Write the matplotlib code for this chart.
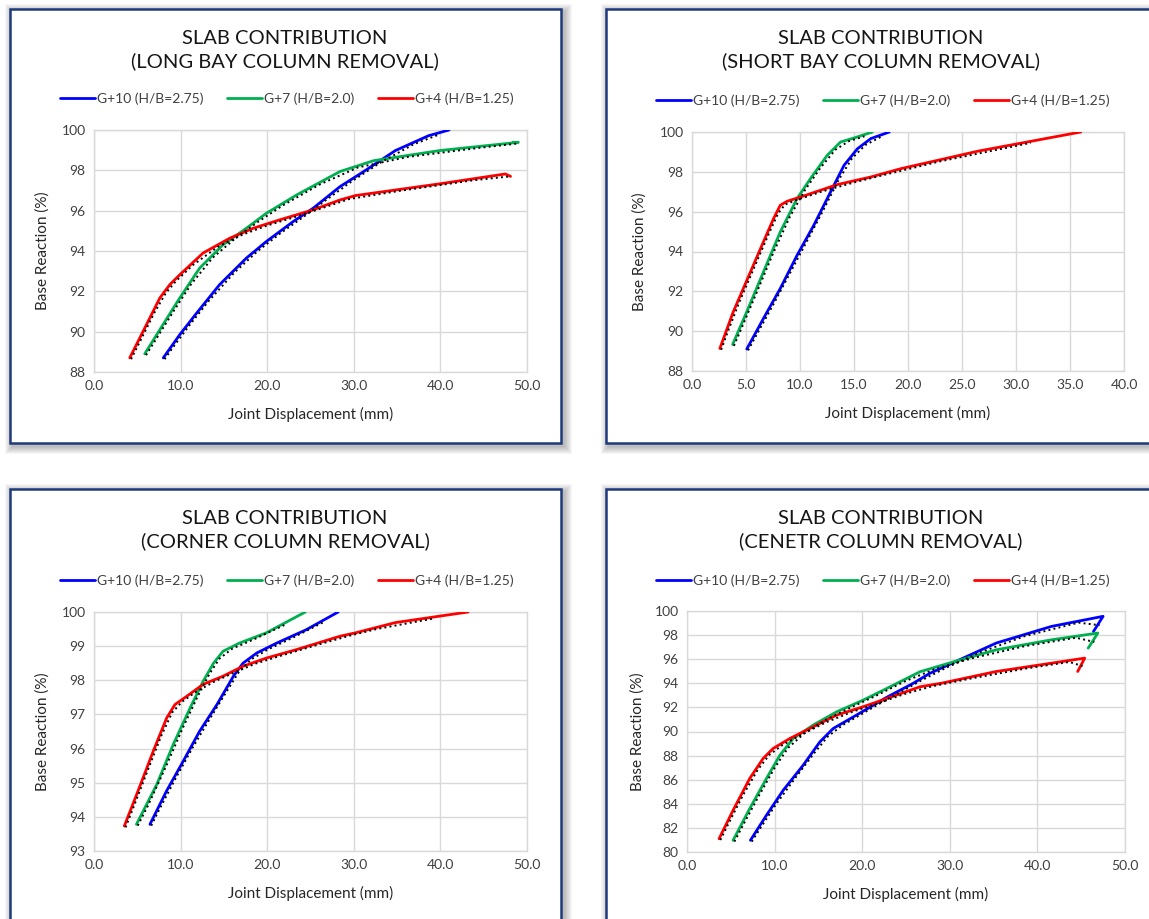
import numpy as np
import matplotlib
matplotlib.use('Agg')
import matplotlib.pyplot as plt
import matplotlib.transforms as mtransforms
from matplotlib.patches import Rectangle

plt.rcParams['font.family'] = ['Lato', 'DejaVu Sans']

W, H = 1149, 919

##-----     DATA     -----
series_names = ['G+10 (H/B=2.75)', 'G+7 (H/B=2.0)', 'G+4 (H/B=1.25)']
series_colors = ['#0000FF', '#00B050', '#FF0000']

# long bay column removal
long_g10_x = [8.0, 9.9, 11.85, 14.5, 17.6, 19.9, 23.0, 25.3, 28.4, 31.0, 34.8, 38.65, 41.0]
long_g10_y = [88.7, 89.85, 90.92, 92.33, 93.65, 94.47, 95.46, 96.12, 97.19, 97.9, 98.98, 99.72, 100.0]
long_g7_x = [5.86, 7.97, 9.9, 12.2, 14.9, 17.6, 19.9, 23.4, 28.4, 32.3, 39.9, 49.0, 48.4]
long_g7_y = [88.9, 90.35, 91.67, 93.15, 94.31, 95.13, 95.87, 96.78, 97.94, 98.48, 98.98, 99.39, 99.39]
long_g4_x = [4.13, 6.06, 7.6, 8.75, 9.9, 12.6, 15.7, 18.4, 21.4, 25.3, 28.4, 30.2, 39.9, 47.5, 48.1]
long_g4_y = [88.7, 90.35, 91.67, 92.33, 92.82, 93.9, 94.64, 95.13, 95.54, 96.04, 96.53, 96.75, 97.33, 97.82, 97.7]

# short bay column removal
short_g10_x = [5.07, 6.62, 8.17, 9.73, 11.28, 12.83, 14.08, 15.32, 16.56, 18.27]
short_g10_y = [89.1, 90.64, 92.14, 93.81, 95.32, 96.99, 98.33, 99.16, 99.67, 100.0]
short_g7_x = [3.76, 5.07, 6.62, 8.17, 9.73, 10.97, 12.52, 13.76, 15.0, 16.7]
short_g7_y = [89.33, 90.97, 92.98, 94.98, 96.66, 97.66, 98.83, 99.5, 99.7, 100.0]
short_g4_x = [2.58, 3.82, 4.75, 5.68, 6.61, 7.55, 8.17, 8.8, 10.35, 13.45, 16.55, 19.35, 26.5, 36.0]
short_g4_y = [89.13, 90.97, 92.14, 93.31, 94.48, 95.65, 96.32, 96.52, 96.79, 97.36, 97.74, 98.16, 99.04, 100.0]

# corner column removal
corner_g10_x = [6.46, 8.38, 10.3, 12.2, 14.2, 16.1, 17.2, 18.8, 21.1, 24.5, 28.2]
corner_g10_y = [93.78, 94.76, 95.63, 96.51, 97.29, 98.12, 98.5, 98.8, 99.09, 99.48, 100.0]
corner_g7_x = [4.9, 7.25, 9.15, 11.1, 12.6, 13.8, 14.9, 16.8, 19.9, 24.4]
corner_g7_y = [93.78, 94.95, 96.12, 97.19, 97.97, 98.5, 98.85, 99.09, 99.39, 100.0]
corner_g4_x = [3.5, 5.3, 6.85, 8.4, 9.35, 10.7, 12.6, 14.9, 17.2, 19.9, 23.4, 28.4, 30.2, 34.8, 43.2]
corner_g4_y = [93.73, 94.9, 95.93, 96.9, 97.29, 97.53, 97.88, 98.12, 98.41, 98.65, 98.9, 99.29, 99.39, 99.69, 100.0]

# centre column removal
centre_g10_x = [7.24, 9.07, 10.98, 13.26, 15.17, 16.69, 18.6, 20.5, 22.8, 25.8, 27.7, 31.1, 35.3, 41.6, 47.5, 46.4]
centre_g10_y = [80.97, 83.05, 85.12, 87.2, 89.14, 90.25, 91.05, 91.85, 92.84, 93.99, 94.82, 95.95, 97.34, 98.72, 99.56, 98.3]
centre_g7_x = [5.26, 7.16, 9.07, 10.6, 12.12, 14.4, 17.07, 20.1, 22.8, 26.6, 29.9, 35.3, 41.6, 46.9, 45.8]
centre_g7_y = [80.97, 83.6, 86.1, 88.03, 89.42, 90.53, 91.63, 92.6, 93.57, 94.96, 95.67, 96.78, 97.61, 98.17, 96.92]
centre_g4_x = [3.66, 5.26, 7.16, 8.69, 9.83, 11.74, 14.4, 17.07, 20.1, 22.8, 26.6, 29.0, 35.3, 41.6, 45.4, 44.6]
centre_g4_y = [81.1, 83.46, 86.1, 87.76, 88.59, 89.42, 90.39, 91.36, 92.05, 92.74, 93.71, 94.0, 94.98, 95.67, 96.09, 94.98]

titles = ['SLAB CONTRIBUTION\n(LONG BAY COLUMN REMOVAL)',
          'SLAB CONTRIBUTION\n(SHORT BAY COLUMN REMOVAL)',
          'SLAB CONTRIBUTION\n(CORNER COLUMN REMOVAL)',
          'SLAB CONTRIBUTION\n(CENETR COLUMN REMOVAL)']

##-----     LAYOUT (pixels)     -----
panels = [
    dict(box=(10, 9, 561, 443), plot=(94, 130, 527, 372), tx=285, ty=50, leg=(287, 99),
         xl=414, yl=43, xlim=(0, 50, 10), ylim=(88, 100, 2),
         data=[(long_g10_x, long_g10_y), (long_g7_x, long_g7_y), (long_g4_x, long_g4_y)]),
    dict(box=(606, 9, 1170, 443), plot=(692, 132, 1124, 371), tx=881, ty=50, leg=(883, 101),
         xl=413, yl=640, xlim=(0, 40, 5), ylim=(88, 100, 2),
         data=[(short_g10_x, short_g10_y), (short_g7_x, short_g7_y), (short_g4_x, short_g4_y)]),
    dict(box=(10, 489, 561, 940), plot=(94, 612, 527, 851), tx=285, ty=530, leg=(287, 581),
         xl=893, yl=43, xlim=(0, 50, 10), ylim=(93, 100, 1),
         data=[(corner_g10_x, corner_g10_y), (corner_g7_x, corner_g7_y), (corner_g4_x, corner_g4_y)]),
    dict(box=(606, 489, 1170, 940), plot=(687, 611, 1125, 852), tx=881, ty=530, leg=(883, 581),
         xl=894, yl=638, xlim=(0, 50, 10), ylim=(80, 100, 2),
         data=[(centre_g10_x, centre_g10_y), (centre_g7_x, centre_g7_y), (centre_g4_x, centre_g4_y)]),
]

fig = plt.figure(figsize=(W / 100, H / 100), dpi=100)
fig.patch.set_facecolor('white')

def fx(px):
    return px / W

def fy(py):
    return 1 - py / H

def moving_avg(v):
    v = np.asarray(v, dtype=float)
    return (v[:-1] + v[1:]) / 2.

for i, p in enumerate(panels):
    x0, y0, x1, y1 = p['box']
    # soft shadow round the chart box, heavier to the lower right
    for k in range(1, 9):
        fig.patches.append(Rectangle((fx(x0 - k + 3), fy(y1 + k + 3)),
                                     (x1 - x0 + 2 * k) / W, (y1 - y0 + 2 * k) / H,
                                     transform=fig.transFigure, facecolor='black',
                                     edgecolor='none', alpha=0.035, zorder=0))
    fig.patches.append(Rectangle((fx(x0), fy(y1)), (x1 - x0) / W, (y1 - y0) / H,
                                 transform=fig.transFigure, facecolor='white',
                                 edgecolor='#1F3A7A', linewidth=1.8, zorder=1))

    l, t, r, b = p['plot']
    ax = fig.add_axes([fx(l), fy(b), (r - l) / W, (b - t) / H])
    ax.set_zorder(2)
    ax.set_facecolor('white')

    handles = []
    for (xs, ys), name, col in zip(p['data'], series_names, series_colors):
        h, = ax.plot(xs, ys, '-', color=col, lw=2.0, label=name, solid_joinstyle='round',
                     solid_capstyle='round', zorder=3)
        handles.append(h)
        # moving-average trendline, drawn a touch offset as in the original
        off = mtransforms.offset_copy(ax.transData, fig=fig, x=1.3, y=-1.3, units='dots')
        ax.plot(np.r_[xs[0], moving_avg(xs)], np.r_[ys[0], moving_avg(ys)], ':',
                color='black', lw=1.4, transform=off, zorder=4)

    xmin, xmax, xstep = p['xlim']
    ymin, ymax, ystep = p['ylim']
    ax.set_xlim(xmin, xmax)
    ax.set_ylim(ymin, ymax)
    xt = np.arange(xmin, xmax + 0.01, xstep)
    ax.set_xticks(xt)
    ax.set_xticklabels(['%.1f' % v for v in xt])
    ax.set_yticks(np.arange(ymin, ymax + 0.01, ystep))
    ax.grid(True, color='#D9D9D9', lw=1.0)
    ax.set_axisbelow(True)
    for s in ax.spines.values():
        s.set_color('#D9D9D9')
        s.set_linewidth(1.0)
    ax.tick_params(length=0, labelsize=10, labelcolor='#404040', pad=6)

    ax.set_xlabel('Joint Displacement (mm)', fontsize=11, color='#262626', va='center')
    ax.set_ylabel('Base Reaction (%)', fontsize=11, color='#262626', va='center')
    ax.xaxis.set_label_coords(0.5, (b - p['xl']) / (b - t))
    ax.yaxis.set_label_coords((p['yl'] - l) / (r - l), 0.5)

    fig.text(fx(p['tx']), fy(p['ty']), titles[i], ha='center', va='center',
             fontsize=14.5, color='#161616', linespacing=1.35)

    fig.legend(handles=handles, loc='center', ncol=3, frameon=False,
               bbox_to_anchor=(fx(p['leg'][0]), fy(p['leg'][1])),
               fontsize=10, handlelength=2.5, handletextpad=0.15, columnspacing=1.7,
               labelcolor='#404040')

fig.savefig('out.png', dpi=100, facecolor='white')
